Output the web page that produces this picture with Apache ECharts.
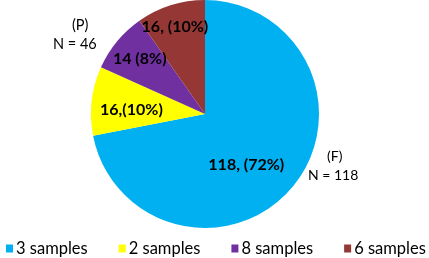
<!DOCTYPE html>
<html>
<head>
<meta charset="utf-8">
<script src="https://cdn.jsdelivr.net/npm/echarts@6/dist/echarts.min.js"></script>
<style>
html, body { margin: 0; padding: 0; background: #fff; }
#chart { width: 429px; height: 258px; }
</style>
</head>
<body>
<div id="chart"></div>
<script>
// sample groups, clockwise from 12 o'clock
var categories = ['3 samples', '2 samples', '8 samples', '6 samples'];
var counts = [118, 16, 14, 16];
var sliceLabels = ['118, (72%)', '16,(10%)', '14 (8%)', '16, (10%)'];
var colors = ['#00b0f0', '#ffff00', '#7030a0', '#953735'];
var labelOffsets = [[-5, 13], [-14, 3], [-19, -17], [-12, -30]];

var myChart = echarts.init(document.getElementById('chart'));

var option = {
    animation: false,
    color: colors,
    legend: {
        data: categories,
        left: 1,
        bottom: 0,
        padding: [5, 0, 1, 5],
        itemWidth: 7,
        itemHeight: 8,
        itemGap: 31,
        icon: 'rect',
        textStyle: {
            fontFamily: 'Lato',
            fontSize: 16.5,
            color: '#000',
            padding: [0, 0, 0, -2]
        }
    },
    graphic: [
        {
            type: 'text',
            left: 72,
            top: 18,
            style: { text: '(P)', font: '14.5px Lato', fill: '#000' }
        },
        {
            type: 'text',
            left: 53,
            top: 37,
            style: { text: 'N = 46', font: '14.5px Lato', fill: '#000' }
        },
        {
            type: 'text',
            left: 327,
            top: 149,
            style: { text: '(F)', font: '14px Lato', fill: '#000' }
        },
        {
            type: 'text',
            left: 308,
            top: 168,
            style: { text: 'N = 118', font: '14px Lato', fill: '#000' }
        }
    ],
    series: [{
        type: 'pie',
        center: [205, 114],
        radius: [0, 114],
        startAngle: 90,
        clockwise: true,
        silent: true,
        label: {
            show: true,
            position: 'inside',
            color: '#000',
            fontFamily: 'Lato',
            fontWeight: 'bold',
            fontSize: 16
        },
        labelLine: { show: false },
        data: categories.map(function (name, i) {
            return {
                name: name,
                value: counts[i],
                label: { formatter: sliceLabels[i], offset: labelOffsets[i] }
            };
        })
    }]
};

myChart.setOption(option);
</script>
</body>
</html>
